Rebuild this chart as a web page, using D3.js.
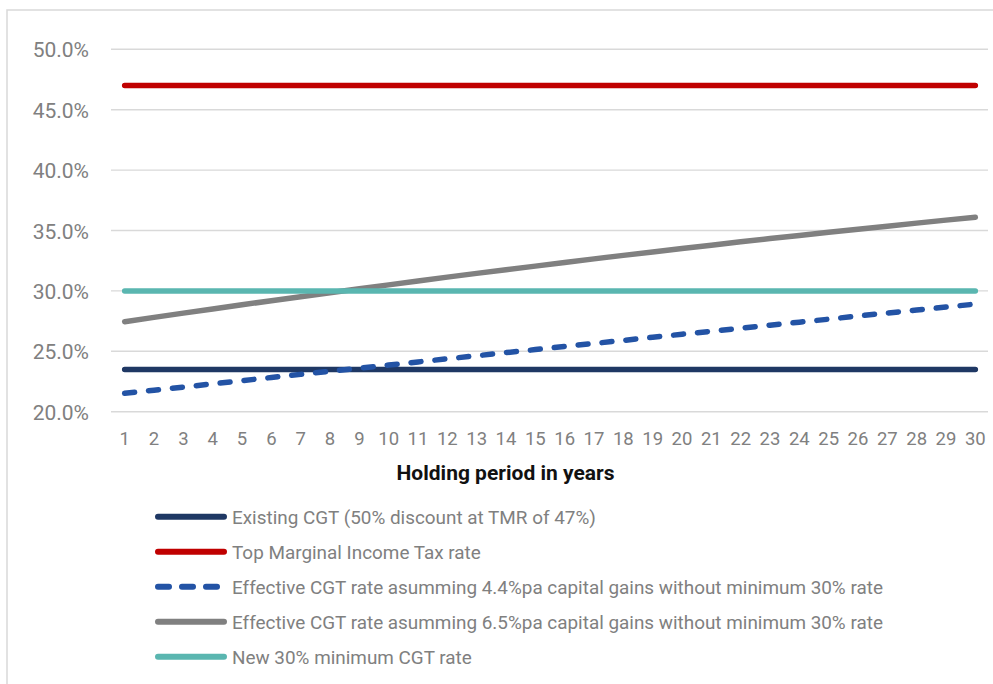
<!DOCTYPE html>
<html>
<head>
<meta charset="utf-8">
<script src="https://cdn.jsdelivr.net/npm/d3@7"></script>
<style>
  html, body { margin: 0; padding: 0; background: #fff; }
  svg { display: block; font-family: Roboto, "Noto Sans", sans-serif; }
</style>
</head>
<body>
<svg id="chart" width="993" height="684"></svg>
<script>
// ---- Data ----
const years = d3.range(1, 31);
const yTicks = [20, 25, 30, 35, 40, 45, 50];

const existingCGT = years.map(() => 23.5);
const topMarginal = years.map(() => 47.0);
const newMinimum = years.map(() => 30.0);
const effective44 = [21.52, 21.78, 22.04, 22.30, 22.57, 22.83, 23.09, 23.35, 23.60, 23.86,
                     24.12, 24.38, 24.63, 24.89, 25.14, 25.40, 25.65, 25.90, 26.16, 26.41,
                     26.66, 26.91, 27.16, 27.41, 27.66, 27.92, 28.17, 28.41, 28.66, 28.91];
const effective65 = [27.45, 27.81, 28.16, 28.50, 28.85, 29.19, 29.52, 29.85, 30.18, 30.50,
                     30.82, 31.14, 31.45, 31.75, 32.05, 32.35, 32.65, 32.94, 33.22, 33.51,
                     33.78, 34.06, 34.33, 34.59, 34.85, 35.11, 35.36, 35.61, 35.86, 36.10];

const seriesNames = [
  "Existing CGT (50% discount at TMR of 47%)",
  "Top Marginal Income Tax rate",
  "Effective CGT rate asumming 4.4%pa capital gains without minimum 30% rate",
  "Effective CGT rate asumming 6.5%pa capital gains without minimum 30% rate",
  "New 30% minimum CGT rate"
];
const seriesValues = [existingCGT, topMarginal, effective44, effective65, newMinimum];
const seriesColors = ["#1F3864", "#C00000", "#2353A5", "#808080", "#5AB6B0"];
const seriesDashed = [false, false, true, false, false];
const xTitle = "Holding period in years";

// ---- Layout ----
const svg = d3.select("#chart");

svg.append("rect")
  .attr("x", 7).attr("y", 10)
  .attr("width", 1100).attr("height", 800)
  .attr("fill", "#fff").attr("stroke", "#d9d9d9").attr("stroke-width", 1.5);

const x = d3.scaleBand().domain(years).range([110, 990]).padding(0);
const y = d3.scaleLinear().domain([20, 50]).range([411.7, 49.3]);
const cx = d => x(d) + x.bandwidth() / 2;

// gridlines
svg.append("g").selectAll("line").data(yTicks).join("line")
  .attr("x1", 111).attr("x2", 988)
  .attr("y1", d => y(d)).attr("y2", d => y(d))
  .attr("stroke", "#d9d9d9").attr("stroke-width", 1.4);

// y axis labels
const yAxis = d3.axisLeft(y).tickValues(yTicks).tickFormat(d => d.toFixed(1) + "%").tickSize(0).tickPadding(0);
const gy = svg.append("g").attr("transform", "translate(89,0)").call(yAxis);
gy.select(".domain").remove();
gy.selectAll("text").attr("fill", "#808080").style("font-size", "21px")
  .style("font-family", "Roboto, sans-serif").attr("dy", "0.36em");

// x axis labels
const xAxis = d3.axisBottom(x).tickSize(0).tickPadding(0);
const gx = svg.append("g").attr("transform", "translate(0,445)").call(xAxis);
gx.select(".domain").remove();
gx.selectAll("text").attr("fill", "#808080").style("font-size", "18.5px")
  .style("font-family", "Roboto, sans-serif").attr("dy", 0).attr("y", 0);

// x title
svg.append("text")
  .attr("x", 505.5).attr("y", 479.5)
  .attr("text-anchor", "middle")
  .attr("fill", "#111")
  .style("font-size", "21px").style("font-weight", "bold")
  .text(xTitle);

// lines (draw order: existing, dashed, grey, teal, red)
const line = d3.line().x((d, i) => cx(years[i])).y(d => y(d));
const order = [0, 2, 3, 4, 1];
svg.append("g").selectAll("path").data(order).join("path")
  .attr("d", i => line(seriesValues[i]))
  .attr("fill", "none")
  .attr("stroke", i => seriesColors[i])
  .attr("stroke-width", 5.5)
  .attr("stroke-linecap", "round")
  .attr("stroke-linejoin", "round")
  .attr("stroke-dasharray", i => seriesDashed[i] ? "10,14" : null);

// legend
const legend = svg.append("g");
const rows = legend.selectAll("g").data(seriesNames).join("g")
  .attr("transform", (d, i) => `translate(0,${516.7 + i * 35})`);
rows.append("line")
  .attr("x1", 158).attr("x2", 224).attr("y1", 0).attr("y2", 0)
  .attr("stroke", (d, i) => seriesColors[i])
  .attr("stroke-width", 6)
  .attr("stroke-linecap", "round")
  .attr("stroke-dasharray", (d, i) => seriesDashed[i] ? "11,13" : null);
rows.append("text")
  .attr("x", 232).attr("y", 0).attr("dy", "0.36em")
  .attr("fill", "#808080")
  .style("font-size", "18.9px")
  .text(d => d);
</script>
</body>
</html>
